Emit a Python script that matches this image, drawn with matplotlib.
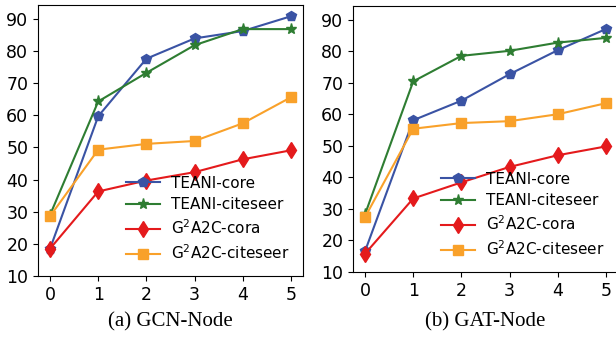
import matplotlib
matplotlib.use('Agg')
import matplotlib.pyplot as plt

steps = [0, 1, 2, 3, 4, 5]
labels = ['TEANI-core', 'TEANI-citeseer', r'G$^2$A2C-cora', r'G$^2$A2C-citeseer']
markers = ['p', '*', 'd', 's']
msizes = [7, 8, 8, 7]
colors = ['#3a53a4', '#2e7d32', '#e41a1c', '#f9a12a']

# (a) GCN-Node
gcn_teani_core = [18.5, 59.7, 77.6, 83.9, 86.2, 90.8]
gcn_teani_citeseer = [29.0, 64.3, 73.2, 81.8, 86.8, 86.8]
gcn_g2a2c_cora = [18.5, 36.3, 39.7, 42.3, 46.3, 49.1]
gcn_g2a2c_citeseer = [28.6, 49.3, 51.1, 52.0, 57.5, 65.6]

# (b) GAT-Node
gat_teani_core = [16.6, 58.1, 64.3, 72.7, 80.3, 87.0]
gat_teani_citeseer = [28.3, 70.4, 78.5, 80.1, 82.7, 84.2]
gat_g2a2c_cora = [15.8, 33.3, 38.4, 43.3, 47.0, 49.8]
gat_g2a2c_citeseer = [27.4, 55.4, 57.2, 57.8, 60.0, 63.5]

fig = plt.figure(figsize=(6.16, 3.37), dpi=100)
W, H = 616.0, 337.0
ax1 = fig.add_axes([38/W, (H-276)/H, 265/W, 271/H])
ax2 = fig.add_axes([353/W, (H-272)/H, 265/W, 266/H])

panels = [
    (ax1, [gcn_teani_core, gcn_teani_citeseer, gcn_g2a2c_cora, gcn_g2a2c_citeseer], '(a) GCN-Node'),
    (ax2, [gat_teani_core, gat_teani_citeseer, gat_g2a2c_cora, gat_g2a2c_citeseer], '(b) GAT-Node'),
]

for ax, series, title in panels:
    for vals, lab, m, ms, c in zip(series, labels, markers, msizes, colors):
        ax.plot(steps, vals, marker=m, color=c, label=lab, linewidth=1.5, markersize=ms)
    ax.set_ylim(10, 94.3)
    ax.set_xlim(-0.25, 5.25)
    ax.set_xticks(steps)
    ax.set_yticks([10, 20, 30, 40, 50, 60, 70, 80, 90])
    ax.tick_params(labelsize=12.5)
    ax.legend(loc='lower right', frameon=False, fontsize=11, handlelength=2.2,
              handletextpad=0.7, borderaxespad=0.5, labelspacing=0.42)
    pos = ax.get_position()
    fig.text((pos.x0 + pos.x1) / 2, (H-322)/H, title, ha='center', va='center',
             fontsize=15, family='Liberation Serif')

fig.savefig('out.png', dpi=100)
